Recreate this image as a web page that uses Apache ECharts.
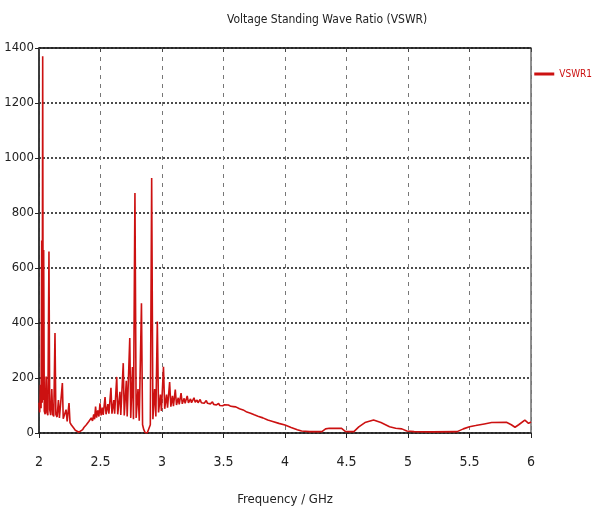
<!DOCTYPE html>
<html>
<head>
<meta charset="utf-8">
<script src="https://cdn.jsdelivr.net/npm/echarts@6/dist/echarts.min.js"></script>
<style>
  html, body { margin: 0; padding: 0; background: #fff; }
  #chart { width: 601px; height: 516px; }
</style>
</head>
<body>
<div id="chart"></div>
<script>
var myChart = echarts.init(document.getElementById('chart'));

// frequency (GHz) and VSWR
var freq = [
  2.000, 2.006, 2.012, 2.017, 2.022, 2.026, 2.030, 2.034, 2.038, 2.043,
  2.050, 2.058, 2.064, 2.072, 2.081, 2.087, 2.095, 2.104, 2.111, 2.120,
  2.130, 2.137, 2.147, 2.158, 2.166, 2.178, 2.190, 2.197, 2.208, 2.220,
  2.229, 2.244, 2.252, 2.262, 2.272, 2.282, 2.295, 2.310, 2.325, 2.340,
  2.355, 2.365, 2.375, 2.385, 2.395, 2.405, 2.415, 2.425, 2.435, 2.445,
  2.452, 2.460, 2.468, 2.478, 2.487, 2.496, 2.505, 2.515, 2.522, 2.537,
  2.545, 2.560, 2.568, 2.585, 2.593, 2.608, 2.615, 2.632, 2.640, 2.658,
  2.665, 2.685, 2.693, 2.710, 2.717, 2.738, 2.746, 2.760, 2.768, 2.780,
  2.790, 2.805, 2.815, 2.833, 2.842, 2.852, 2.862, 2.880, 2.895, 2.905,
  2.916, 2.926, 2.940, 2.950, 2.962, 2.972, 2.987, 2.995, 3.012, 3.022,
  3.037, 3.045, 3.062, 3.072, 3.085, 3.093, 3.108, 3.118, 3.132, 3.140,
  3.155, 3.165, 3.180, 3.188, 3.205, 3.215, 3.232, 3.240, 3.260, 3.270,
  3.285, 3.293, 3.310, 3.320, 3.335, 3.343, 3.360, 3.370, 3.385, 3.393,
  3.410, 3.420, 3.435, 3.443, 3.460, 3.470, 3.485, 3.493, 3.510, 3.520,
  3.540, 3.560, 3.580, 3.600, 3.630, 3.660, 3.690, 3.720, 3.750, 3.780,
  3.820, 3.860, 3.900, 3.950, 4.000, 4.050, 4.100, 4.135, 4.200, 4.300,
  4.330, 4.360, 4.460, 4.490, 4.520, 4.560, 4.600, 4.650, 4.720, 4.780,
  4.850, 4.900, 4.950, 4.990, 5.050, 5.200, 5.400, 5.450, 5.500, 5.550,
  5.620, 5.680, 5.800, 5.840, 5.870, 5.900, 5.950, 5.980, 6.000
];
var vswr = [
  110, 75, 175, 90, 700, 110, 1370, 120, 665, 80,
  68, 205, 75, 65, 660, 85, 65, 160, 68, 60,
  364, 68, 58, 120, 55, 52, 182, 52, 48, 85,
  42, 109, 38, 30, 34, 18, 10, 5, 3, 5,
  12, 20, 16, 30, 26, 42, 36, 55, 44, 68,
  50, 96, 56, 82, 60, 108, 64, 92, 66, 131,
  68, 105, 70, 164, 70, 120, 70, 204, 68, 150,
  66, 254, 64, 190, 60, 345, 55, 240, 50, 873,
  55, 160, 45, 472, 30, 12, 2, 0, 3, 30,
  927, 50, 160, 60, 405, 75, 140, 80, 241, 88,
  140, 92, 185, 96, 135, 98, 158, 102, 128, 104,
  145, 106, 126, 108, 135, 110, 124, 110, 128, 112,
  120, 110, 122, 110, 116, 108, 118, 108, 112, 106,
  113, 104, 110, 102, 108, 100, 106, 99, 103, 98,
  102, 97, 96, 95, 88, 84, 76, 72, 66, 61,
  55, 47, 42, 35, 29, 20, 12, 7, 5, 5,
  15, 17, 17, 6, 5, 5, 22, 38, 47, 38,
  23, 17, 15, 7, 5, 4, 5, 15, 23, 27,
  33, 38, 39, 30, 21, 30, 47, 35, 40
];

var xTicks = [2, 2.5, 3, 3.5, 4, 4.5, 5, 5.5, 6];
var yTicks = [0, 200, 400, 600, 800, 1000, 1200, 1400];

var points = freq.map(function (f, i) { return [f, vswr[i]]; });
var font = "'Liberation Sans Narrow', 'DejaVu Sans Condensed', 'Liberation Sans', sans-serif";

option = {
  backgroundColor: '#fff',
  animation: false,
  title: {
    text: 'Voltage Standing Wave Ratio (VSWR)',
    left: 222,
    top: 9,
    textStyle: { fontFamily: font, fontSize: 12, fontWeight: 'normal', color: '#222' }
  },
  legend: {
    data: ['VSWR1'],
    right: 4,
    top: 64,
    icon: 'rect',
    itemWidth: 20,
    itemHeight: 3,
    itemGap: 4,
    textStyle: { fontFamily: font, fontSize: 10, color: '#cc1111' }
  },
  grid: {
    left: 39, right: 70, top: 48, bottom: 83,
    show: true, borderColor: '#222', borderWidth: 1
  },
  xAxis: [{
    type: 'value',
    min: xTicks[0], max: xTicks[xTicks.length - 1], interval: 0.5,
    name: 'Frequency / GHz',
    nameLocation: 'middle',
    nameGap: 60,
    nameTextStyle: { fontFamily: font, fontSize: 13, color: '#222' },
    axisLine: { show: true, lineStyle: { color: '#222', width: 1.5 } },
    axisTick: { show: true, length: 5, lineStyle: { color: '#222' } },
    axisLabel: { fontFamily: font, fontSize: 14, color: '#222', margin: 22 },
    splitLine: { show: true, lineStyle: { color: '#777', type: [4, 5], width: 1 } }
  }, {
    type: 'value', position: 'top',
    min: xTicks[0], max: xTicks[xTicks.length - 1], interval: 0.5,
    axisLine: { show: true, lineStyle: { color: '#222', width: 1.5 } },
    axisTick: { show: true, inside: true, length: 4, lineStyle: { color: '#444' } },
    axisLabel: { show: false },
    splitLine: { show: false }
  }],
  yAxis: {
    type: 'value',
    min: yTicks[0], max: yTicks[yTicks.length - 1], interval: 200,
    axisLine: { show: true, lineStyle: { color: '#222', width: 1.5 } },
    axisTick: { show: true, length: 4, lineStyle: { color: '#222' } },
    axisLabel: {
      fontFamily: font, fontSize: 13, color: '#222', margin: 5,
      formatter: function (v) { return String(v); }
    },
    splitLine: { show: true, lineStyle: { color: '#111', type: [2, 2], width: 1.5 } }
  },
  series: [{
    name: 'VSWR1',
    type: 'line',
    data: points,
    showSymbol: false,
    symbol: 'none',
    lineStyle: { color: '#cc1111', width: 1.6 },
    itemStyle: { color: '#cc1111' }
  }]
};

myChart.setOption(option, true);
</script>
</body>
</html>
